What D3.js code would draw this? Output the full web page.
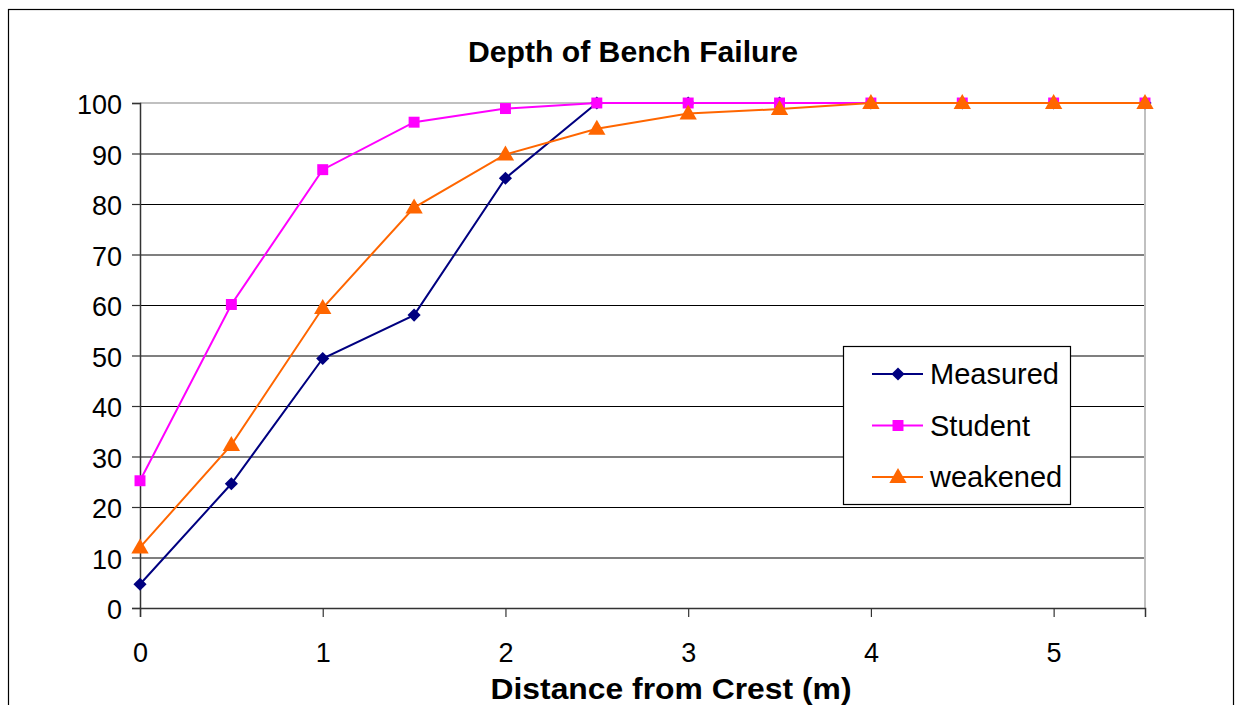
<!DOCTYPE html>
<html>
<head>
<meta charset="utf-8">
<script src="https://cdn.jsdelivr.net/npm/d3@7"></script>
<style>
  html, body { margin: 0; padding: 0; background: #fff; }
  svg { display: block; font-family: "Liberation Sans", Arial, sans-serif; }
</style>
</head>
<body>
<div id="chart"></div>
<script>
// data
const distances = [0, 0.5, 1, 1.5, 2, 2.5, 3, 3.5, 4, 4.5, 5, 5.5];
const measured = [4.7, 24.6, 49.4, 58.0, 85.1, 100, 100, 100, 100, 100, 100, 100];
const student = [25.2, 60.1, 86.8, 96.2, 98.9, 100, 100, 100, 100, 100, 100, 100];
const weakened = [12.0, 32.3, 59.4, 79.3, 89.8, 94.9, 97.9, 98.8, 100, 100, 100, 100];
const yTicks = [0, 10, 20, 30, 40, 50, 60, 70, 80, 90, 100];
const xTicks = [0, 1, 2, 3, 4, 5];
const seriesNames = ["Measured", "Student", "weakened"];

const W = 1236, H = 705;
const plot = { left: 140, right: 1145, top: 103, bottom: 608 };

const svg = d3.select("#chart").append("svg")
  .attr("width", W).attr("height", H);

// outer chart frame
svg.append("rect")
  .attr("x", 8.5).attr("y", 9.5)
  .attr("width", 1225).attr("height", 720)
  .attr("fill", "#fff").attr("stroke", "#000").attr("stroke-width", 1.2);

const x = d3.scaleLinear().domain([0, 5.5]).range([plot.left, plot.right]);
const y = d3.scaleLinear().domain([0, 100]).range([plot.bottom, plot.top]);

// gridlines
svg.append("g")
  .selectAll("line")
  .data(yTicks.filter(d => d > 0 && d < 100))
  .enter().append("line")
  .attr("x1", plot.left).attr("x2", plot.right)
  .attr("y1", d => y(d) + 0.5).attr("y2", d => y(d) + 0.5)
  .attr("stroke", "#000").attr("stroke-width", 1.2);

// gray top and right edges of the plot area
svg.append("line")
  .attr("x1", plot.left).attr("x2", plot.right)
  .attr("y1", plot.top).attr("y2", plot.top)
  .attr("stroke", "#c0c0c0").attr("stroke-width", 2);
svg.append("line")
  .attr("x1", plot.right).attr("x2", plot.right)
  .attr("y1", plot.top).attr("y2", plot.bottom)
  .attr("stroke", "#c0c0c0").attr("stroke-width", 2);

// y axis
const yAxis = svg.append("g")
  .attr("transform", `translate(${plot.left},0)`)
  .call(d3.axisLeft(y).tickValues(yTicks).tickSize(8).tickPadding(10));
yAxis.select(".domain").attr("stroke", "#333").attr("stroke-width", 1.5);
yAxis.selectAll(".tick line").attr("stroke", "#333").attr("stroke-width", 1.2);
yAxis.selectAll(".tick text")
  .attr("font-size", 27).attr("fill", "#000")
  .attr("font-family", "'Liberation Sans', Arial, sans-serif")
  .attr("dy", "0.4em");

// x axis
const xAxis = svg.append("g")
  .attr("transform", `translate(0,${plot.bottom})`)
  .call(d3.axisBottom(x).tickValues(xTicks).tickFormat(d3.format("d"))
    .tickSize(9).tickPadding(26));
xAxis.select(".domain").attr("stroke", "#333").attr("stroke-width", 1.5);
xAxis.selectAll(".tick line").attr("stroke", "#333").attr("stroke-width", 1.2);
xAxis.selectAll(".tick text")
  .attr("font-size", 27).attr("fill", "#000")
  .attr("font-family", "'Liberation Sans', Arial, sans-serif");

// titles
svg.append("text")
  .attr("x", 633).attr("y", 62)
  .attr("text-anchor", "middle")
  .attr("font-size", 29).attr("font-weight", "bold")
  .attr("textLength", 330).attr("lengthAdjust", "spacingAndGlyphs")
  .text("Depth of Bench Failure");

svg.append("text")
  .attr("x", 671).attr("y", 699)
  .attr("text-anchor", "middle")
  .attr("font-size", 29).attr("font-weight", "bold")
  .attr("textLength", 361).attr("lengthAdjust", "spacingAndGlyphs")
  .text("Distance from Crest (m)");

// marker shapes
const markers = {
  Measured: d3.symbol().type(d3.symbolDiamond2).size(110),
  Student: d3.symbol().type(d3.symbolSquare).size(120),
  weakened: d3.symbol().type(d3.symbolTriangle).size(130)
};
const colors = { Measured: "#000080", Student: "#ff00ff", weakened: "#ff6600" };
const values = { Measured: measured, Student: student, weakened: weakened };

const line = d3.line()
  .x(d => x(d[0]))
  .y(d => y(d[1]));

seriesNames.forEach(name => {
  const pts = distances.map((d, i) => [d, values[name][i]]);
  const g = svg.append("g");
  g.append("path")
    .datum(pts)
    .attr("d", line)
    .attr("fill", "none")
    .attr("stroke", colors[name])
    .attr("stroke-width", 2);
  g.selectAll("path.m")
    .data(pts)
    .enter().append("path")
    .attr("class", "m")
    .attr("d", markers[name])
    .attr("transform", d => `translate(${x(d[0])},${y(d[1]) + (name === "weakened" ? 1 : 0)})`)
    .attr("fill", colors[name]);
});

// legend
const legend = svg.append("g");
legend.append("rect")
  .attr("x", 843.5).attr("y", 346.5)
  .attr("width", 227).attr("height", 158)
  .attr("fill", "#fff").attr("stroke", "#000").attr("stroke-width", 1.2);

const rowY = d3.scalePoint().domain(seriesNames).range([374, 477]);
seriesNames.forEach(name => {
  const ry = rowY(name);
  legend.append("line")
    .attr("x1", 872).attr("x2", 923)
    .attr("y1", ry).attr("y2", ry)
    .attr("stroke", colors[name]).attr("stroke-width", 2);
  legend.append("path")
    .attr("d", markers[name])
    .attr("transform", `translate(898,${ry + (name === "weakened" ? 1 : 0)})`)
    .attr("fill", colors[name]);
  legend.append("text")
    .attr("x", 930).attr("y", ry + 10)
    .attr("font-size", 29)
    .text(name);
});
</script>
</body>
</html>
